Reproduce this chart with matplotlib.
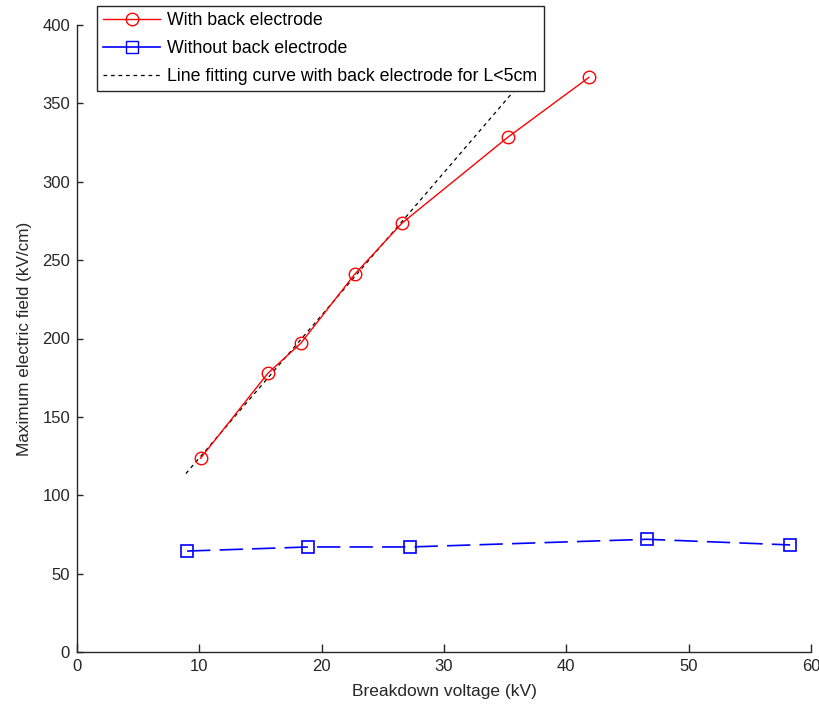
import numpy as np
import matplotlib
matplotlib.use("Agg")
import matplotlib.pyplot as plt
from matplotlib.lines import Line2D

plt.rcParams['font.family'] = ['Liberation Sans', 'DejaVu Sans']

# With back electrode
with_x = [10.1, 15.6, 18.3, 22.7, 26.55, 35.2, 41.85]
with_y = [123.6, 177.8, 197.0, 241.0, 273.5, 328.3, 366.6]

# Without back electrode
without_x = [9.0, 18.9, 27.2, 46.6, 58.3]
without_y = [64.4, 67.0, 67.0, 71.9, 68.3]

# line fit range (fit done on points with L<5cm, first five)
fit_range = [8.9, 38.0]
n_fit = 5

labels = ["With back electrode",
          "Without back electrode",
          "Line fitting curve with back electrode for L<5cm"]

xticks = [0, 10, 20, 30, 40, 50, 60]
yticks = [0, 50, 100, 150, 200, 250, 300, 350, 400]

fig = plt.figure(figsize=(8.2, 7.07), dpi=100)
ax = fig.add_axes([77/820, 55/707, (811-77)/820, (652-25)/707])

# fitted line
p = np.polyfit(with_x[:n_fit], with_y[:n_fit], 1)
fx = np.array(fit_range)
ax.plot(fx, np.polyval(p, fx), color='black', lw=0.9, dashes=(3, 3))

ax.plot(with_x, with_y, color='red', lw=1.0, marker='o', ms=9,
        mfc='none', mec='red', mew=1.0)
ax.plot(without_x, without_y, color='blue', lw=1.2, dashes=(14, 5.5),
        marker='s', ms=9, mfc='none', mec='blue', mew=1.2)

ax.set_xlim(0, 60)
ax.set_ylim(0, 400)
ax.set_xticks(xticks)
ax.set_yticks(yticks)
ax.spines['top'].set_visible(False)
ax.spines['right'].set_visible(False)
for s in ['left', 'bottom']:
    ax.spines[s].set_color('#262626')
    ax.spines[s].set_linewidth(1.0)
ax.tick_params(axis='x', direction='in', length=6, width=1, colors='#262626',
               labelcolor='#262626', labelsize=12, pad=5)
ax.tick_params(axis='y', direction='in', length=4.5, width=1, colors='#262626',
               labelcolor='#262626', labelsize=12, pad=5)

ax.set_xlabel("Breakdown voltage (kV)", fontsize=12.5, color='#262626', labelpad=7)
ax.set_ylabel("Maximum electric field (kV/cm)", fontsize=12.3, color='#262626', labelpad=7)

handles = [
    Line2D([], [], color='red', lw=1.0, marker='o', ms=9, mfc='none', mec='red'),
    Line2D([], [], color='blue', lw=1.2, marker='s', ms=9, mfc='none', mec='blue'),
    Line2D([], [], color='black', lw=0.9, dashes=(3, 3)),
]
leg = ax.legend(handles, labels, loc='upper left',
                bbox_to_anchor=(97/820, 1 - 6/707), bbox_transform=fig.transFigure,
                borderaxespad=0, fontsize=12.8, fancybox=False, framealpha=1,
                edgecolor='#262626', handlelength=3.2, handletextpad=0.4,
                labelspacing=0.62, borderpad=0.35)
leg.get_frame().set_linewidth(1.0)
leg.set_zorder(10)

fig.savefig("out.png", dpi=100)
